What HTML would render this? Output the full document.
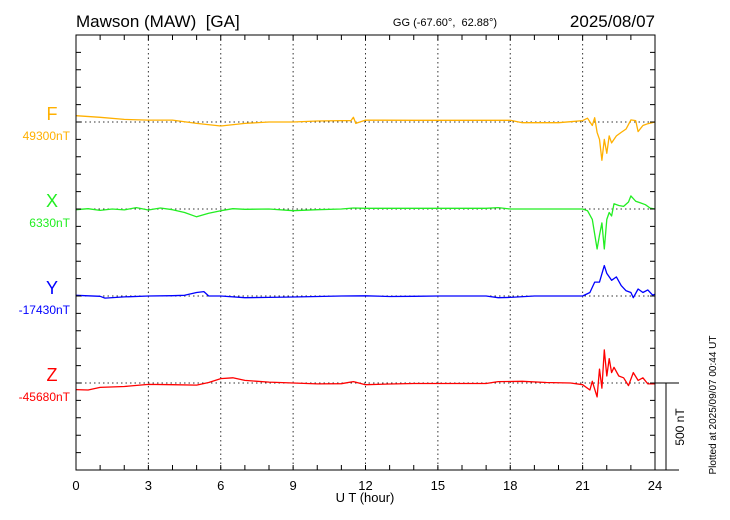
<!DOCTYPE html>
<html><head><meta charset="utf-8"><style>
body{margin:0;background:#fff;}
svg{display:block;font-family:"Liberation Sans",sans-serif;}
text{white-space:pre;}
</style></head><body>
<svg id="chart" width="730" height="520" viewBox="0 0 730 520" xmlns="http://www.w3.org/2000/svg">
<text x="76" y="27" font-size="17" xml:space="preserve">Mawson (MAW)  [GA]</text>
<text x="445" y="26" font-size="11" text-anchor="middle" xml:space="preserve">GG (-67.60°,  62.88°)</text>
<text x="655" y="27" font-size="17" text-anchor="end">2025/08/07</text>
<g id="grid"></g><g id="series"></g><g id="axes"></g>
<text x="365" y="502" font-size="13" text-anchor="middle">U T (hour)</text>
<text transform="translate(684,427) rotate(-90)" font-size="12" text-anchor="middle">500 nT</text>
<text transform="translate(716,405) rotate(-90)" font-size="10" text-anchor="middle">Plotted at 2025/09/07 00:44 UT</text>
</svg>
<script>
const tF=[0,1,2,3,4,5,6,7,8,9,10,11,11.4,11.5,11.6,12,14,16,18,18.5,20,20.5,21,21.2,21.4,21.5,21.6,21.7,21.8,21.9,22.0,22.1,22.2,22.4,22.6,22.8,23.0,23.2,23.3,23.5,23.7,24];
const vF=[36,27,15,11,11,-8,-23,-8,0,0,6,8,8,27,-8,11,10,10,10,-4,-4,2,8,22,-20,25,-60,-100,-220,-100,-180,-80,-120,-80,-60,-40,12,8,-55,-20,-10,0];
const tX=[0,0.5,1,1.5,2,2.5,3,3.5,4,4.5,5,5.5,6,6.5,7,8,9,10,11,11.5,12,14,17,17.5,18,21,21.2,21.4,21.6,21.7,21.8,21.9,22.0,22.1,22.2,22.3,22.5,22.7,22.9,23.0,23.2,23.4,23.6,23.8,24];
const vX=[-4,2,-8,0,-5,8,-6,6,-4,-20,-45,-25,-10,2,-2,0,-10,-4,0,6,4,4,4,8,0,0,-10,-60,-230,-150,-80,-230,-60,-20,-40,30,20,15,40,75,45,35,25,5,0];
const tY=[0,1,1.2,2,3,4,4.5,5,5.3,5.5,6,7,8,9,10,11,12,13,14,15,17,17.5,18,19,21,21.3,21.5,21.7,21.9,22.0,22.2,22.4,22.6,22.8,23.0,23.1,23.3,23.5,23.7,23.9,24];
const vY=[4,-2,-12,-5,0,2,4,20,25,0,0,-10,-8,-6,-3,0,1,-3,-2,0,0,-10,-8,0,0,20,80,80,175,130,90,110,60,30,20,-10,40,20,35,5,10];
const tZ=[0,0.5,1,2,3,4,5,5.5,6,6.5,7,8,9,10,11,11.5,12,13,14,17,17.5,18.5,19.5,20.5,21,21.3,21.4,21.6,21.7,21.8,21.9,22.0,22.1,22.2,22.3,22.5,22.7,22.9,23.1,23.3,23.5,23.7,24];
const vZ=[-38,-40,-25,-20,-8,-10,-12,3,25,30,15,5,0,-5,-4,8,-10,-6,-3,-3,8,10,3,0,-10,-40,10,-80,80,-30,190,40,140,60,90,40,30,-15,60,15,30,-5,-5];
const names=["F","X","Y","Z"];
const baseLabels=["49300nT","6330nT","-17430nT","-45680nT"];
const colors=["#ffb000","#22ee22","#0000ff","#ff0000"];
const xTicks=[0,3,6,9,12,15,18,21,24];

const X0=76,X1=655,Y0=35,Y1=470,PPT=17.4;
const bases=[122,209,296,383];
const sx=h=>X0+(X1-X0)*h/24;
const sy=(i,v)=>bases[i]-v*PPT/100;
const NS="http://www.w3.org/2000/svg";
function mk(tag,attrs,parent,txt){const e=document.createElementNS(NS,tag);for(const k in attrs)e.setAttribute(k,attrs[k]);if(txt!==undefined)e.textContent=txt;parent.appendChild(e);return e;}
const grid=document.getElementById('grid'),ser=document.getElementById('series'),ax=document.getElementById('axes');
xTicks.forEach(h=>{if(h>0&&h<24){const l=mk('line',{x1:sx(h),x2:sx(h),y1:Y0,y2:Y1,stroke:'#333','stroke-dasharray':'1.5,3','stroke-width':1},grid);

}
const t=mk('text',{x:sx(h),y:490,'font-size':13,'text-anchor':'middle'},ax,String(h));

});
bases.forEach((b,i)=>{const l=mk('line',{x1:X0,x2:X1,y1:b,y2:b,stroke:'#333','stroke-dasharray':'1.5,3'},grid);


const n=mk('text',{x:52,y:b-2,'font-size':18,fill:colors[i],'text-anchor':'middle'},ax,names[i]);


const bl=mk('text',{x:70,y:b+18,'font-size':12,fill:colors[i],'text-anchor':'end'},ax,baseLabels[i]);

});
[[tF,vF],[tX,vX],[tY,vY],[tZ,vZ]].forEach((d,i)=>{const pts=d[0].map((t,j)=>sx(t).toFixed(1)+','+sy(i,d[1][j]).toFixed(1)).join(' ');
const p=mk('polyline',{points:pts,fill:'none',stroke:colors[i],'stroke-width':1.3,'stroke-linejoin':'round'},ser);

});
const fr=mk('rect',{x:X0,y:Y0,width:X1-X0,height:Y1-Y0,fill:'none',stroke:'#000','stroke-width':1},ax);


let tk='';
for(let h=1;h<24;h++){tk+=`M${sx(h)},${Y0}v5M${sx(h)},${Y1}v-5`;}
for(let y=Y0+PPT;y<Y1-1;y+=PPT){tk+=`M${X0},${y}h5M${X1},${y}h-5`;}
const tp=mk('path',{d:tk,stroke:'#000','stroke-width':1,fill:'none'},ax);


const sb=mk('path',{d:`M${X1},383H679M666,383V470M${X1},470H679`,stroke:'#000','stroke-width':1,fill:'none'},ax);


</script>
</body></html>
